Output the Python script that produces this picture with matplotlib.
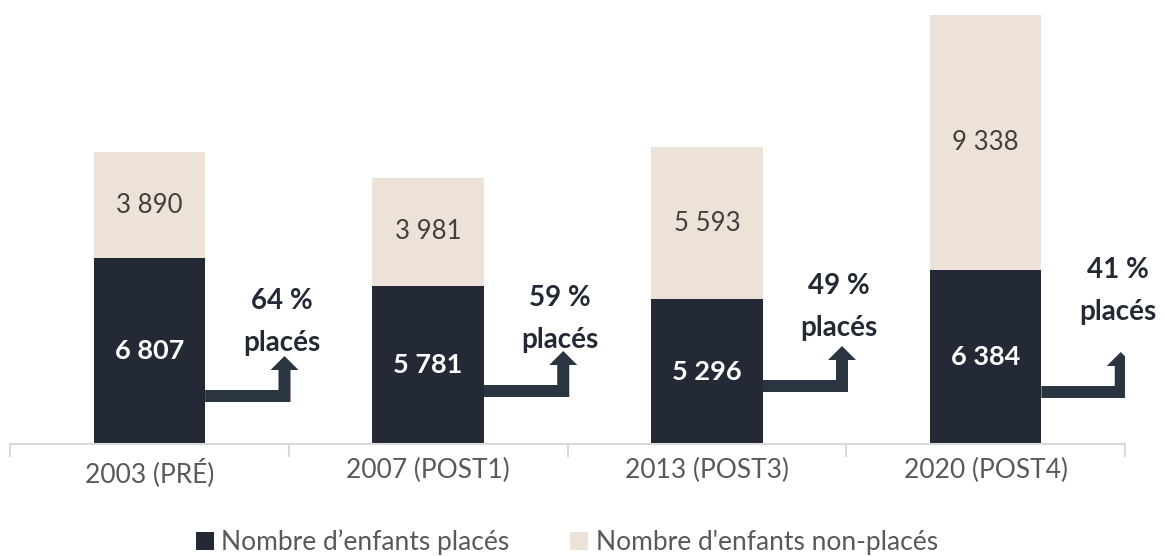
import matplotlib.pyplot as plt
from matplotlib.patches import Polygon

# Données
categories = ["2003 (PRÉ)", "2007 (POST1)", "2013 (POST3)", "2020 (POST4)"]
places = [6807, 5781, 5296, 6384]
non_places = [3890, 3981, 5593, 9338]
pct_places = ["64 %", "59 %", "49 %", "41 %"]

dark = "#232a36"
beige = "#ede2d8"
arrow_col = "#2b3441"
grey = "#595959"

plt.rcParams['font.family'] = ['Lato', 'DejaVu Sans']

fig = plt.figure(figsize=(11.64, 5.56), dpi=100)
ax = fig.add_axes([10 / 1164, 1 - 444 / 556, 1115 / 1164, 444 / 556])

x = list(range(len(categories)))
w = 0.40
ymax = 16264
ax.bar(x, places, w, color=dark, label="Nombre d\u2019enfants placés", zorder=2)
ax.bar(x, non_places, w, bottom=places, color=beige,
       label="Nombre d'enfants non-placés", zorder=2)

ax.set_xlim(-0.5, len(categories) - 0.5)
ax.set_ylim(0, ymax)

# pixels -> données
upp = ymax / 444.0       # unités par pixel vertical
xpp = 1.0 / 278.5        # unités par pixel horizontal

for i in x:
    ax.text(i, places[i] / 2, f"{places[i]:,}".replace(",", " "), ha="center",
            va="center", color="white", fontsize=19.5, fontweight="bold", zorder=3)
    ax.text(i, places[i] + non_places[i] / 2, f"{non_places[i]:,}".replace(",", " "),
            ha="center", va="center", color="#404040", fontsize=18.5, zorder=3)

# flèches coudées
shaft_px = [42, 47, 52, 46]
text_px = [101, 104, 116, 132]
for i in x:
    x0 = i + w / 2
    xr = i + 141 * xpp
    xl = xr - 12 * xpp
    xc = (xl + xr) / 2
    yb = shaft_px[i] * upp
    yt = (shaft_px[i] + 12) * upp
    yh = (shaft_px[i] + 32) * upp
    ytip = (shaft_px[i] + 46) * upp
    hw = 14 * xpp
    pts = [(x0, yb), (xr, yb), (xr, yh), (xc + hw, yh), (xc, ytip),
           (xc - hw, yh), (xl, yh), (xl, yt), (x0, yt)]
    ax.add_patch(Polygon(pts, closed=True, color=arrow_col, zorder=3, lw=0))
    ax.text(xc - 3 * xpp, text_px[i] * upp, "placés", ha="center", va="center",
            fontsize=20, fontweight="bold", color=dark)
    ax.text(xc - 3 * xpp, (text_px[i] + 42) * upp, pct_places[i], ha="center",
            va="center", fontsize=20, fontweight="bold", color=dark)

for s in ["top", "left", "right"]:
    ax.spines[s].set_visible(False)
ax.spines["bottom"].set_color("#d9d9d9")
ax.spines["bottom"].set_linewidth(1.5)
ax.set_yticks([])
ax.set_xticks([v + 0.5 for v in [-1] + x], minor=True)
ax.set_xticks(x)
ax.set_xticklabels(categories, fontsize=19, color=grey)
ax.tick_params(axis="x", which="major", length=0, pad=10)
ax.tick_params(axis="x", which="minor", length=9, width=1.5, color="#d9d9d9")

fig.legend(loc="center", bbox_to_anchor=(567 / 1164, 1 - 542 / 556), ncol=2,
           frameon=False, fontsize=19, labelcolor=grey, handlelength=0.68,
           handleheight=0.68, handletextpad=0.3, columnspacing=2.3,
           borderpad=0)

fig.savefig("out.png", dpi=100)
